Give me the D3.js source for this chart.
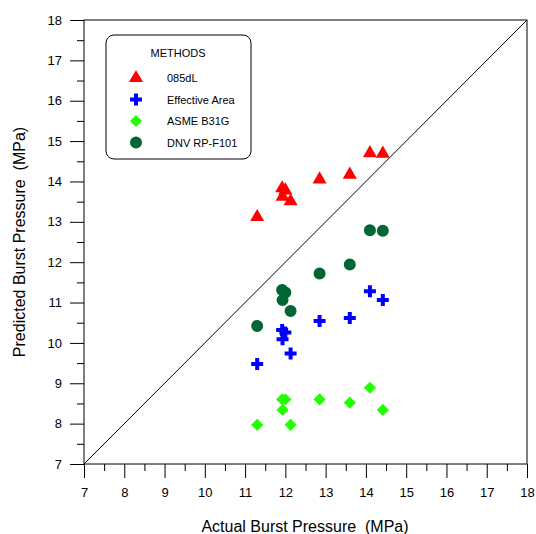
<!DOCTYPE html>
<html>
<head>
<meta charset="utf-8">
<script src="https://cdn.jsdelivr.net/npm/d3@7"></script>
<style>
body { margin: 0; background: #fff; }
text { font-family: "Liberation Sans", Arial, sans-serif; white-space: pre; }
</style>
</head>
<body>
<script>
// data
var actual = [11.3, 11.92, 12.0, 11.93, 12.13, 12.85, 13.6, 14.1, 14.42];
var dl085 = [13.12, 13.83, 13.78, 13.62, 13.51, 14.05, 14.17, 14.7, 14.69];
var effArea = [9.48, 10.32, 10.26, 10.09, 9.74, 10.54, 10.62, 11.28, 11.06];
var asme = [7.97, 8.6, 8.6, 8.34, 7.97, 8.6, 8.52, 8.89, 8.34];
var dnv = [10.42, 11.31, 11.25, 11.06, 10.79, 11.72, 11.94, 12.79, 12.78];
var methods = ["085dL", "Effective Area", "ASME B31G", "DNV RP-F101"];
var ticks = [7, 8, 9, 10, 11, 12, 13, 14, 15, 16, 17, 18];

var svg = d3.select("body").append("svg").attr("width", 536).attr("height", 534);

var x = d3.scaleLinear().domain([7, 18]).range([84, 527]);
var y = d3.scaleLinear().domain([7, 18]).range([464, 20]);

// frame
svg.append("rect").attr("x", 84).attr("y", 20).attr("width", 443).attr("height", 444)
   .attr("fill", "none").attr("stroke", "#000").attr("stroke-width", 1);

// minor ticks
var minor = d3.range(7.5, 18, 1);
svg.append("g").attr("transform", "translate(0,464)")
   .call(d3.axisBottom(x).tickValues(minor).tickSize(7).tickFormat(""))
   .call(function(g){ g.select(".domain").remove(); });
svg.append("g").attr("transform", "translate(84,0)")
   .call(d3.axisLeft(y).tickValues(minor).tickSize(7).tickFormat(""))
   .call(function(g){ g.select(".domain").remove(); });

// major ticks
var xa = svg.append("g").attr("transform", "translate(0,464)")
   .call(d3.axisBottom(x).tickValues(ticks).tickSize(14).tickPadding(10).tickFormat(d3.format("d")));
xa.selectAll("text").attr("font-size", 13).attr("fill", "#000");
var ya = svg.append("g").attr("transform", "translate(84,0)")
   .call(d3.axisLeft(y).tickValues(ticks).tickSize(14).tickPadding(8).tickFormat(d3.format("d")));
ya.selectAll("text").attr("font-size", 13).attr("fill", "#000");
svg.selectAll(".domain").remove();

// 1:1 line
svg.append("line").attr("x1", x(7)).attr("y1", y(7)).attr("x2", x(18)).attr("y2", y(18))
   .attr("stroke", "#000").attr("stroke-width", 1);

// axis titles
svg.append("text").attr("x", 305).attr("y", 532).attr("text-anchor", "middle")
   .attr("font-size", 16).text("Actual Burst Pressure  (MPa)");
svg.append("text").attr("transform", "translate(25,242) rotate(-90)").attr("text-anchor", "middle")
   .attr("font-size", 16).text("Predicted Burst Pressure  (MPa)");

var triangle = d3.symbol().type(d3.symbolTriangle).size(85);
var cross = d3.symbol().type(d3.symbolCross).size(80);
var diamond = d3.symbol().type(d3.symbolSquare).size(74);
var circle = d3.symbol().type(d3.symbolCircle).size(113);

function plot(vals, sym, color, rot) {
  svg.append("g").selectAll("path")
    .data(vals)
    .enter().append("path")
      .attr("d", sym)
      .attr("fill", color)
      .attr("transform", function(d, i){ return "translate(" + x(actual[i]) + "," + y(d) + ")" + (rot ? " rotate(45)" : ""); });
}
plot(asme, diamond, "#22ff00", true);
plot(effArea, cross, "#0000ff", false);
plot(dnv, circle, "#006633", false);
plot(dl085, triangle, "#ff0000", false);

// legend
var lg = svg.append("g");
lg.append("rect").attr("x", 106).attr("y", 35).attr("width", 145).attr("height", 124)
  .attr("rx", 8).attr("fill", "#fff").attr("stroke", "#000").attr("stroke-width", 1);
lg.append("text").attr("x", 178).attr("y", 57).attr("text-anchor", "middle")
  .attr("font-size", 11).text("METHODS");
var syms = [triangle, cross, diamond, circle];
var cols = ["#ff0000", "#0000ff", "#22ff00", "#006633"];
methods.forEach(function(m, i){
  var cy = 78 + i * 21.5;
  lg.append("path").attr("d", syms[i]).attr("fill", cols[i])
    .attr("transform", "translate(136," + cy + ")" + (i == 2 ? " rotate(45)" : ""));
  lg.append("text").attr("x", 167).attr("y", cy + 4).attr("font-size", 11).text(m);
});
</script>
</body>
</html>
